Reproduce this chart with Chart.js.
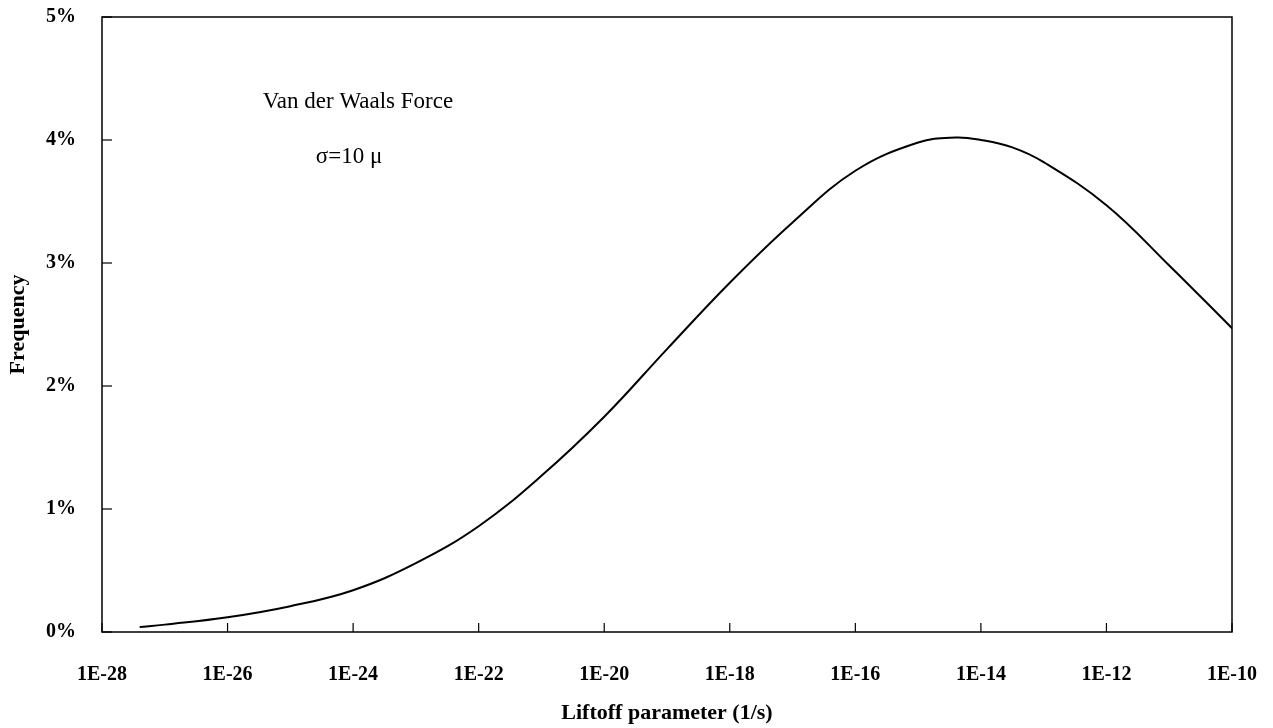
<!DOCTYPE html>
<html>
<head>
<meta charset="utf-8">
<script src="https://cdn.jsdelivr.net/npm/chart.js@4.4.1/dist/chart.umd.min.js"></script>
<style>
  html, body { margin: 0; padding: 0; background: #fff; }
  #wrap { width: 1273px; height: 728px; position: relative; }
</style>
</head>
<body>
<div id="wrap"><canvas id="grafico"></canvas></div>
<script>
// expoente de 10 do parametro de liftoff (1/s)
const expoentes = [-27.4, -27, -26, -25, -24, -23, -22, -21, -20, -19, -18, -17, -16, -15, -14.4, -14, -13.5, -13, -12, -11, -10];
// frequencia em %
const frequencia = [0.04, 0.06, 0.12, 0.21, 0.34, 0.56, 0.86, 1.27, 1.75, 2.30, 2.84, 3.33, 3.75, 3.98, 4.02, 4.00, 3.94, 3.82, 3.47, 2.98, 2.47];
const xMin = -28, xMax = -10, xPasso = 2;
const yMin = 0, yMax = 5, yPasso = 1;
const anotacoes = ["Van der Waals Force", "\u03c3=10 \u03bc"];

const serif = "'Liberation Serif', 'Times New Roman', serif";

// moldura + ticks para dentro
const moldura = {
   id: "moldura",
   afterDraw(chart) {
      const { ctx, chartArea: a, scales } = chart;
      ctx.save();
      ctx.strokeStyle = "#000";
      ctx.lineWidth = 1.5;
      ctx.strokeRect(a.left, a.top, a.right - a.left, a.bottom - a.top);
      ctx.lineWidth = 1.2;
      scales.x.ticks.forEach(t => {
         const px = scales.x.getPixelForValue(t.value);
         ctx.beginPath();
         ctx.moveTo(px, a.bottom);
         ctx.lineTo(px, a.bottom - 9);
         ctx.stroke();
      });
      scales.y.ticks.forEach(t => {
         const py = scales.y.getPixelForValue(t.value);
         ctx.beginPath();
         ctx.moveTo(a.left, py);
         ctx.lineTo(a.left + 10, py);
         ctx.stroke();
      });
      // textos
      ctx.fillStyle = "#000";
      ctx.textAlign = "center";
      ctx.textBaseline = "middle";
      ctx.font = "23px " + serif;
      ctx.fillText(anotacoes[0], 358, 102);
      ctx.fillText(anotacoes[1], 349, 157);
      ctx.restore();
   }
};

const ctx = document.getElementById("grafico");
new Chart(ctx, {
   type: "line",
   data: {
      datasets: [
         {
            label: "Frequency",
            data: expoentes.map((x, i) => ({ x: x, y: frequencia[i] })),
            borderColor: "#000",
            borderWidth: 2,
            pointRadius: 0,
            tension: 0.4,
            fill: false,
         },
      ],
   },
   plugins: [moldura],
   options: {
      responsive: true,
      maintainAspectRatio: false,
      animation: false,
      layout: {
         padding: { left: 0, right: 41, top: 17, bottom: 0 },
      },
      plugins: {
         legend: { display: false },
         tooltip: { enabled: false },
      },
      scales: {
         x: {
            type: "linear",
            min: xMin,
            max: xMax,
            afterFit(scale) {
               scale.height = 96;
               scale.paddingLeft = 0;
               scale.paddingRight = 0;
            },
            afterBuildTicks(scale) {
               const t = [];
               for (let v = xMin; v <= xMax; v += xPasso) t.push({ value: v });
               scale.ticks = t;
            },
            grid: { display: false, drawTicks: false },
            border: { display: false },
            ticks: {
               padding: 31,
               color: "#000",
               maxRotation: 0,
               autoSkip: false,
               font: { family: serif, size: 20, weight: "bold" },
               callback: v => "1E" + v,
            },
            title: {
               display: true,
               text: "Liftoff parameter (1/s)",
               color: "#000",
               font: { family: serif, size: 22, weight: "bold" },
               padding: { top: 0, bottom: 1 },
            },
         },
         y: {
            min: yMin,
            max: yMax,
            afterFit(scale) {
               scale.width = 102;
               scale.paddingTop = 0;
               scale.paddingBottom = 0;
            },
            grid: { display: false, drawTicks: false },
            border: { display: false },
            ticks: {
               stepSize: yPasso,
               padding: 26,
               color: "#000",
               font: { family: serif, size: 20, weight: "bold" },
               callback: v => v + "%",
            },
            title: {
               display: true,
               text: "Frequency",
               color: "#000",
               font: { family: serif, size: 22, weight: "bold" },
               padding: { top: 5, bottom: 0 },
            },
         },
      },
   },
});
</script>
</body>
</html>
